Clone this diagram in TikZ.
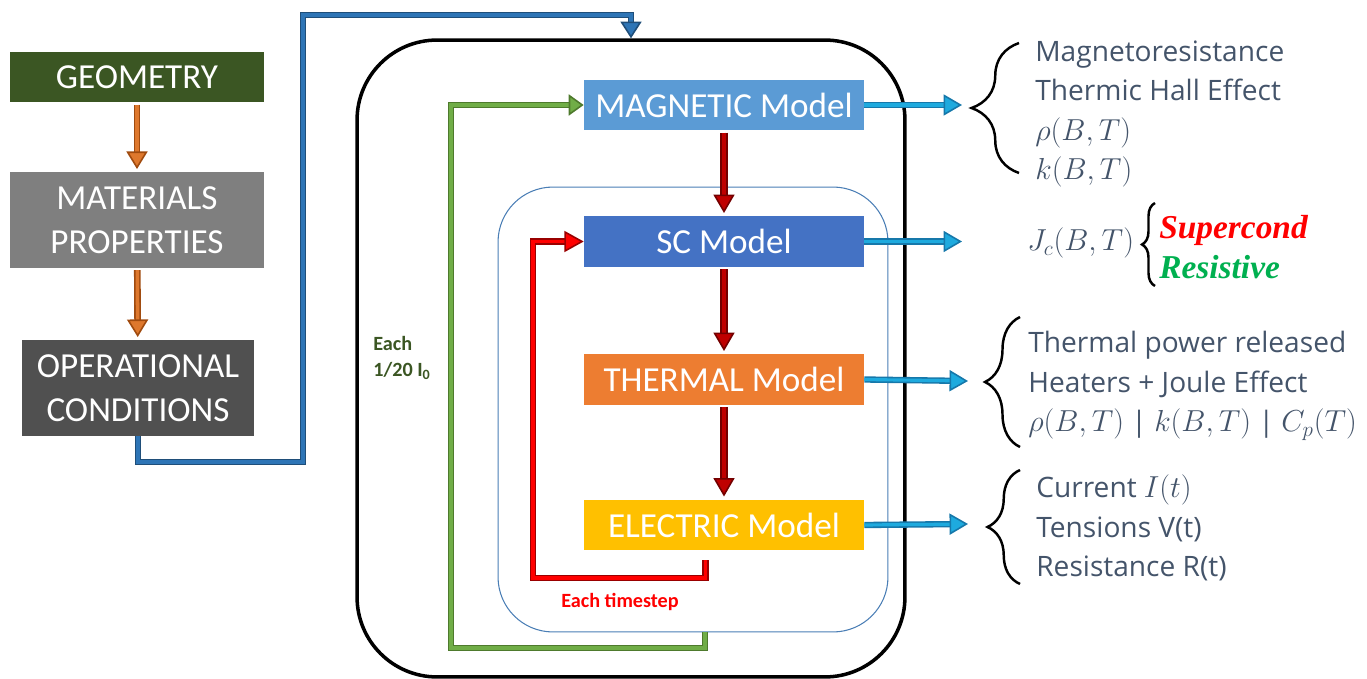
\documentclass[tikz,border=0pt]{standalone}
\usepackage{fontspec}
\setmainfont{Carlito}
\newfontfamily\statefont{Liberation Serif}
\newfontfamily\outfont{Open Sans}
\usetikzlibrary{arrows.meta,decorations.pathreplacing}
\definecolor{geocolor}{RGB}{59,86,35}
\definecolor{matcolor}{RGB}{127,127,127}
\definecolor{opcolor}{RGB}{80,80,80}
\definecolor{magcolor}{RGB}{91,155,213}
\definecolor{sccolor}{RGB}{68,114,196}
\definecolor{thermcolor}{RGB}{237,125,49}
\definecolor{eleccolor}{RGB}{255,192,0}
\definecolor{loopblue}{RGB}{74,126,181}
\definecolor{feedblue}{RGB}{46,117,182}
\definecolor{feedblueedge}{RGB}{31,78,121}
\definecolor{loopgreen}{RGB}{112,173,71}
\definecolor{loopgreenedge}{RGB}{78,122,45}
\definecolor{outarrow}{RGB}{30,170,222}
\definecolor{outarrowedge}{RGB}{22,120,170}
\definecolor{inarrow}{RGB}{222,120,45}
\definecolor{inarrowedge}{RGB}{160,75,15}
\definecolor{outtext}{RGB}{68,84,106}
\definecolor{labelgreen}{RGB}{59,86,35}
\definecolor{resgreen}{RGB}{0,176,80}
\newcommand{\mth}[1]{{\fontsize{18}{22.5}\selectfont$#1$}}

\tikzset{
  inputbox/.style={minimum width=5.08cm, text=white, align=center, inner sep=0pt,
    font=\fontsize{20}{25}\selectfont},
  modelbox/.style={minimum width=5.6cm, minimum height=1.02cm, text=white, inner sep=0pt,
    font=\fontsize{20}{25}\selectfont},
  pipe/.style n args={4}{draw=#1, double=#2, line width=0.9pt, double distance=#3,
    -{Triangle[width=12pt,length=#4,fill=#2]}},
  outlist/.style={anchor=west, align=left, inner sep=0pt, text=outtext,
    font=\outfont\fontsize{16}{22.5}\selectfont},
  bracestyle/.style={decorate, line width=1.4pt, decoration={brace, amplitude=#1}},
}

\begin{document}
\begin{tikzpicture}[x=0.02cm, y=-0.02cm]
    \useasboundingbox (0,0) rectangle (1367,679);

    % Loop frames
    \node[draw=black, line width=2pt, rounded corners=1.6cm, minimum width=10.96cm,
      minimum height=12.74cm] (outer) at (631,358.5) {};
    \node[draw=loopblue, line width=0.6pt, rounded corners=1.1cm, minimum width=7.8cm,
      minimum height=8.9cm] (inner) at (693,409.5) {};

    % Input chain
    \node[inputbox, fill=geocolor, minimum height=1.02cm] (geo) at (137,77) {GEOMETRY};
    \node[inputbox, fill=matcolor, minimum height=1.92cm] (mat) at (137,220) {MATERIALS\\PROPERTIES};
    \node[inputbox, fill=opcolor, minimum width=4.64cm, minimum height=1.92cm] (oper) at (138,388) {OPERATIONAL\\CONDITIONS};
    \draw[pipe={inarrowedge}{inarrow}{2pt}{10pt}, shorten <=1pt, shorten >=1.5pt] (geo) -- (mat);
    \draw[pipe={inarrowedge}{inarrow}{2pt}{10pt}, shorten <=1pt, shorten >=1.5pt] (mat) -- (oper);

    % Feed into the outer loop
    \coordinate (bluecorner) at (303,462);
    \coordinate (bluetop) at (631,15);
    \draw[pipe={feedblueedge}{feedblue}{1.8pt}{9.5pt}] (oper.south) |- (bluecorner) |- (bluetop) -- (outer.north);

    % Models
    \node[modelbox, fill=magcolor] (mag) at (724,105) {MAGNETIC Model};
    \node[modelbox, fill=sccolor] (sc) at (724,241.5) {SC Model};
    \node[modelbox, fill=thermcolor] (therm) at (724,379.5) {THERMAL Model};
    \node[modelbox, fill=eleccolor] (elec) at (724,525) {ELECTRIC Model};
    \draw[pipe={red!45!black}{red!75!black}{2.6pt}{10.5pt}, shorten <=1pt, shorten >=1.5pt] (mag) -- (sc);
    \draw[pipe={red!45!black}{red!75!black}{2.6pt}{10.5pt}, shorten <=1pt, shorten >=1.5pt] (sc) -- (therm);
    \draw[pipe={red!45!black}{red!75!black}{2.6pt}{10.5pt}, shorten <=1pt, shorten >=1.5pt] (therm) -- (elec);

    % Timestep loop
    \coordinate (redstart) at (705.5,560);
    \coordinate (redcorner) at (533,578);
    \draw[pipe={red!60!black}{red}{1.8pt}{11pt}] (redstart) |- (redcorner) |- (sc.west);
    \node[text=red, font=\fontsize{11.5}{13}\selectfont\bfseries] (steplabel) at (620,602) {Each timestep};

    % Current loop
    \coordinate (greenstart) at (705,632);
    \coordinate (greencorner) at (451,648);
    \draw[pipe={loopgreenedge}{loopgreen}{1.8pt}{8.5pt}] (greenstart) |- (greencorner) |- (mag.west);
    \node[text=labelgreen, align=left, anchor=west, inner sep=0pt,
      font=\fontsize{11.5}{15}\selectfont\bfseries] (currlabel) at (373,358) {Each\\1/20 I\textsubscript{0}};

    % Outputs
    \coordinate (magend) at (962,105);
    \coordinate (scend) at (962,241.5);
    \coordinate (thermend) at (968,381);
    \coordinate (elecend) at (968,524);
    \draw[pipe={outarrowedge}{outarrow}{1.8pt}{10.5pt}] (mag.east) -- (magend);
    \draw[pipe={outarrowedge}{outarrow}{1.8pt}{10.5pt}] (sc.east) -- (scend);
    \draw[pipe={outarrowedge}{outarrow}{1.8pt}{10.5pt}] (therm.east) -- (thermend);
    \draw[pipe={outarrowedge}{outarrow}{1.8pt}{10.5pt}] (elec.east) -- (elecend);

    \draw[bracestyle=0.95cm] (1019,173) -- (1019,43);
    \node[outlist] (magout) at (1035,114) {Magnetoresistance\\Thermic Hall Effect\\\mth{\rho(B,T)}\\\mth{k(B,T)}};

    \node[outlist] (scout) at (1027,243) {\mth{J_c(B,T)}};
    \draw[bracestyle=0.26cm] (1155,286) -- (1155,203);
    \node[anchor=west, align=left, inner sep=0pt, font=\statefont\bfseries\itshape\fontsize{19}{22.7}\selectfont] (states) at (1159,247)
      {\textcolor{red}{Supercond}\\\textcolor{resgreen}{Resistive}};

    \draw[bracestyle=0.7cm] (1020,447) -- (1020,317);
    \node[outlist] (thermout) at (1028,386) {Thermal power released\\Heaters + Joule Effect\\\mth{\rho(B,T)} | \mth{k(B,T)} | \mth{C_p(T)}};

    \draw[bracestyle=0.65cm] (1020,584) -- (1020,470);
    \node[outlist] (elecout) at (1036,528) {Current \mth{I(t)}\\Tensions V(t)\\Resistance R(t)};
\end{tikzpicture}
\end{document}
